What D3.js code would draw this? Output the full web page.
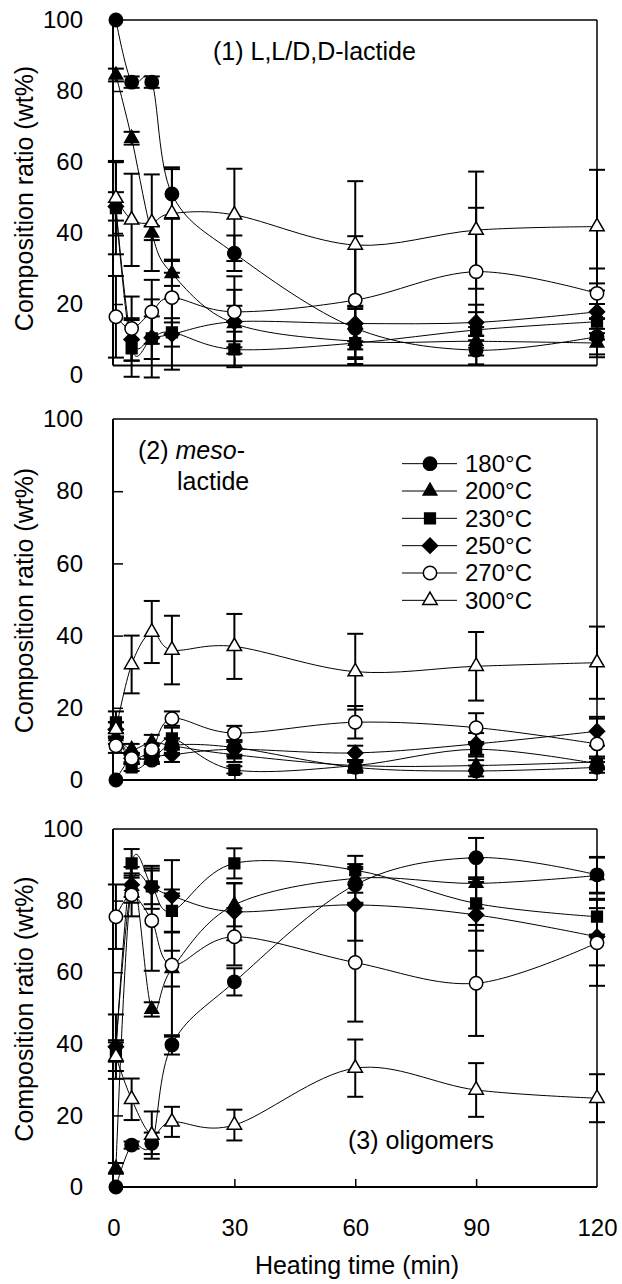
<!DOCTYPE html>
<html><head><meta charset="utf-8">
<script src="https://cdn.jsdelivr.net/npm/d3@7"></script>
<style>
body{margin:0;background:#fff}
text{font-family:Arial,"Liberation Sans",Helvetica,sans-serif;fill:#000}
</style>
</head><body>
<svg id="c" width="622" height="1284"></svg>
<script>
// ---------- data ----------
const times = [0.6, 4.5, 9.5, 14.5, 30, 60, 90, 120];
const temps = ["180°C", "200°C", "230°C", "250°C", "270°C", "300°C"];
const xTicks = [0, 30, 60, 90, 120];
const yTicks = [0, 20, 40, 60, 80, 100];

// (1) L,L/D,D-lactide  (wt%)
const p1_180 = [100, 82.5, 82.5, 51, 34.3, 13.2, 7, 10.8];
const p1_200 = [84.5, 66.7, 40, 28.6, 14.5, 9.5, 9.5, 9];
const p1_230 = [47, 7.5, 10.3, 12, 7.2, 9, 12.7, 15];
const p1_250 = [47.5, 10, 10.5, 11.5, 15, 14.5, 14.8, 17.8];
const p1_270 = [16.4, 13.1, 17.8, 21.8, 17.8, 21.1, 29.1, 23];
const p1_300 = [49.8, 43.7, 42.9, 45.5, 45.1, 36.6, 40.8, 41.8];
const e1_180 = [0, 1.6, 1.6, 7, 5, 6, 4, 5];
const e1_200 = [1.8, 1.8, 2, 3.5, 5, 5, 4, 4];
const e1_230 = [13, 8, 11, 4, 5, 4, 5, 5];
const e1_250 = [4, 6, 6, 10, 9, 5, 5, 6];
const e1_270 = [11.5, 9, 9, 7, 10, 18, 18, 7];
const e1_300 = [10.5, 13, 13.6, 13, 13, 18, 16.5, 16];

// (2) meso-lactide
const p2_180 = [0, 6, 5.5, 9.5, 9, 3.5, 2.5, 3.5];
const p2_200 = [12, 8.5, 10.5, 9.5, 7, 4, 4, 5];
const p2_230 = [16, 3.5, 6, 11.5, 2.8, 4, 8.5, 4.5];
const p2_250 = [14, 6, 6.5, 7, 8.5, 7.5, 10, 13.5];
const p2_270 = [9.5, 6, 8.5, 17, 13, 16, 14.5, 10];
const p2_300 = [14, 32, 41, 36, 37, 30, 31.5, 32.5];
const e2_180 = [0, 1, 1, 2, 2, 1.5, 1.5, 1.5];
const e2_200 = [2, 1.5, 2, 2, 2, 1.5, 1.5, 1.5];
const e2_230 = [3, 1, 1.5, 3, 1, 1.5, 2, 1.5];
const e2_250 = [2, 1.5, 1.5, 2, 2, 2, 3, 4];
const e2_270 = [2, 1.5, 1.5, 2, 2, 4.5, 4, 7];
const e2_300 = [2, 8, 8.6, 9.5, 9, 10.5, 9.5, 10];

// (3) oligomers
const p3_180 = [0, 11.7, 12.2, 39.7, 57.3, 84.4, 92, 87.2];
const p3_200 = [5.2, 84, 49.6, 61, 78.8, 86.2, 84.8, 87];
const p3_230 = [38, 90.4, 84, 77.1, 90.4, 88.5, 79.2, 75.5];
const p3_250 = [39.2, 84.4, 83.7, 81.3, 76.9, 78.8, 76, 69.9];
const p3_270 = [75.5, 81.6, 74.4, 62, 69.9, 62.7, 56.9, 68.2];
const p3_300 = [36.4, 24.5, 14.5, 18.2, 17.3, 33.2, 27.1, 24.8];
const e3_180 = [0, 1, 3, 2.7, 3.8, 5, 5.5, 5];
const e3_200 = [1.5, 3, 2, 5, 6, 4, 7, 5];
const e3_230 = [3, 4, 5, 6, 4.2, 4, 6, 5];
const e3_250 = [9, 5, 6, 10, 8, 10, 10, 8];
const e3_270 = [9, 6, 14, 20, 8, 16.5, 14.7, 12];
const e3_300 = [4, 5.8, 6.6, 4.2, 4.3, 8, 7.5, 6.7];

// ---------- layout ----------
const svg = d3.select("#c");
const FS = 24;
const left = 113, right = 597;
const x = d3.scaleLinear().domain([0, 120]).range([left + 0.5, right]);

const panels = [
  {vals: [p1_180, p1_200, p1_230, p1_250, p1_270, p1_300], errs: [e1_180, e1_200, e1_230, e1_250, e1_270, e1_300],
   y0: 375, y100: 20, frameBottom: 365.5},
  {vals: [p2_180, p2_200, p2_230, p2_250, p2_270, p2_300], errs: [e2_180, e2_200, e2_230, e2_250, e2_270, e2_300],
   y0: 780, y100: 419, frameBottom: 780},
  {vals: [p3_180, p3_200, p3_230, p3_250, p3_270, p3_300], errs: [e3_180, e3_200, e3_230, e3_250, e3_270, e3_300],
   y0: 1187, y100: 829, frameBottom: 1187}
];

// marker styles: circle, triangle, square, diamond (filled), circle, triangle (open)
const markers = [
  {type: d3.symbolCircle, size: 140, fill: "#000", rot: 0},
  {type: d3.symbolTriangle, size: 80, fill: "#000", rot: 0},
  {type: d3.symbolSquare, size: 115, fill: "#000", rot: 0},
  {type: d3.symbolSquare, size: 115, fill: "#000", rot: 45},
  {type: d3.symbolCircle, size: 140, fill: "#fff", rot: 0},
  {type: d3.symbolTriangle, size: 90, fill: "#fff", rot: 0}
];

function drawMarker(g, m, cx, cy) {
  g.append("path")
    .attr("d", d3.symbol().type(m.type).size(m.size)())
    .attr("transform", `translate(${cx},${cy}) rotate(${m.rot})`)
    .attr("fill", m.fill)
    .attr("stroke", "#000")
    .attr("stroke-width", 1.5);
}

panels.forEach((p, pi) => {
  const y = d3.scaleLinear().domain([0, 100]).range([p.y0, p.y100]);
  const g = svg.append("g");

  // frame
  g.append("line").attr("x1", left).attr("x2", right).attr("y1", p.y100).attr("y2", p.y100)
    .attr("stroke", "#000").attr("stroke-width", 1.5);
  g.append("line").attr("x1", right).attr("x2", right).attr("y1", p.y100).attr("y2", p.frameBottom)
    .attr("stroke", "#000").attr("stroke-width", 1.5);

  // y axis
  const ya = g.append("g").attr("transform", `translate(${left},0)`)
    .call(d3.axisLeft(y).tickValues(yTicks).tickSize(-10).tickPadding(30).tickFormat(d3.format("d")));
  ya.select(".domain").remove();
  ya.selectAll(".tick line").filter(d => d === 0 || d === 100).remove();
  ya.selectAll(".tick line").attr("stroke", "#000").attr("stroke-width", 1.5);
  ya.selectAll(".tick text").attr("font-size", FS).attr("font-family", "Arial, 'Liberation Sans', sans-serif").attr("fill", "#000");
  g.append("line").attr("x1", left).attr("x2", left).attr("y1", p.y100).attr("y2", p.frameBottom)
    .attr("stroke", "#000").attr("stroke-width", 2);

  // x axis
  const xa = g.append("g").attr("transform", `translate(0,${p.frameBottom})`)
    .call(d3.axisBottom(x).tickValues(xTicks).tickSize(-8).tickPadding(32).tickFormat(d3.format("d")));
  xa.select(".domain").remove();
  xa.selectAll(".tick line").filter(d => d === 0 || d === 120).remove();
  xa.selectAll(".tick line").attr("stroke", "#000").attr("stroke-width", 1.5);
  if (pi < 2) xa.selectAll(".tick text").remove();
  else xa.selectAll(".tick text").attr("font-size", FS).attr("font-family", "Arial, 'Liberation Sans', sans-serif").attr("fill", "#000");
  g.append("line").attr("x1", left).attr("x2", right).attr("y1", p.frameBottom).attr("y2", p.frameBottom)
    .attr("stroke", "#000").attr("stroke-width", 2);

  // y title
  g.append("text")
    .attr("transform", `translate(33,${(p.y0 + p.y100) / 2 + 1}) rotate(-90)`)
    .attr("text-anchor", "middle").attr("font-size", 25)
    .text("Composition ratio (wt%)");

  const line = d3.line().x((d, i) => x(times[i])).y(d => y(d)).curve(d3.curveCatmullRom.alpha(0));

  p.vals.forEach((vals, si) => {
    const errs = p.errs[si];
    const sg = g.append("g");
    sg.append("path").datum(vals).attr("d", line)
      .attr("fill", "none").attr("stroke", "#000").attr("stroke-width", 1);
    vals.forEach((v, i) => {
      const e = errs[i];
      if (e > 0) {
        const cx = x(times[i]);
        sg.append("line").attr("x1", cx).attr("x2", cx).attr("y1", y(v - e)).attr("y2", y(v + e))
          .attr("stroke", "#000").attr("stroke-width", 2);
        [v - e, v + e].forEach(b => {
          sg.append("line").attr("x1", cx - 8).attr("x2", cx + 8).attr("y1", y(b)).attr("y2", y(b))
            .attr("stroke", "#000").attr("stroke-width", 2);
        });
      }
    });
  });
  p.vals.forEach((vals, si) => {
    vals.forEach((v, i) => drawMarker(g, markers[si], x(times[i]), y(v)));
  });
});

// panel labels
svg.append("text").attr("x", 213).attr("y", 60).attr("font-size", 25).text("(1) L,L/D,D-lactide");
const t2 = svg.append("text").attr("x", 138).attr("y", 459).attr("font-size", 25);
t2.append("tspan").text("(2) ");
t2.append("tspan").attr("font-style", "italic").text("meso");
t2.append("tspan").text("-");
svg.append("text").attr("x", 177).attr("y", 490).attr("font-size", 25).text("lactide");
svg.append("text").attr("x", 348).attr("y", 1149).attr("font-size", 25).text("(3) oligomers");

// x title
svg.append("text").attr("x", 357).attr("y", 1274).attr("text-anchor", "middle").attr("font-size", 25)
  .text("Heating time (min)");

// legend
const legY = d3.scaleBand().domain(temps).range([450, 614]);
temps.forEach((t, i) => {
  const cy = legY(t) + legY.bandwidth() / 2;
  svg.append("line").attr("x1", 402).attr("x2", 457).attr("y1", cy).attr("y2", cy)
    .attr("stroke", "#000").attr("stroke-width", 1);
  drawMarker(svg, markers[i], 430, cy);
  svg.append("text").attr("x", 465).attr("y", cy).attr("dy", "0.35em").attr("font-size", FS).text(t);
});
</script>
</body></html>
